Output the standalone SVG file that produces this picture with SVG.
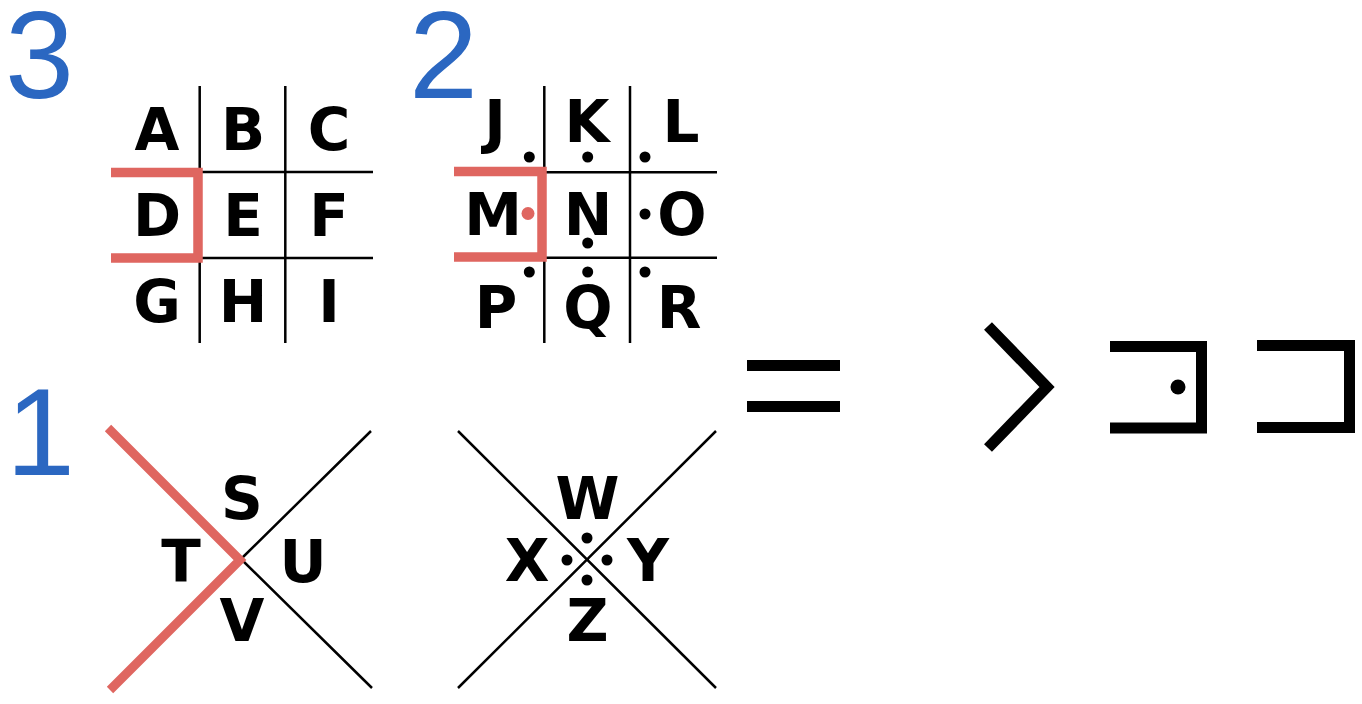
<svg xmlns="http://www.w3.org/2000/svg" width="1362" height="704" viewBox="0 0 1362 704">
<style>
.num{font-family:"Liberation Sans",Arial,sans-serif;font-size:124px;fill:#2b67c1}
.lt{font-family:"DejaVu Sans",Verdana,sans-serif;font-weight:bold;font-size:58px;fill:#000;text-anchor:middle}
.thin{stroke:#000;stroke-width:2.5;fill:none}
.red{stroke:#df6660;stroke-width:9.5;fill:none;stroke-linejoin:miter}
.sym{stroke:#000;stroke-width:11;fill:none;stroke-linejoin:miter}
</style>
<rect width="1362" height="704" fill="#fff"/>
<g id="labels">
<text class="num" x="5" y="98">3</text>
<text class="num" x="409" y="98">2</text>
<text class="num" x="6" y="475">1</text>
</g>
<g id="grid1">
<path class="thin" d="M199.7,86V343M285.3,86V343M200,172H373M200,258H373"/>
<path class="red" d="M111,172.5H198V258H111"/>
<text class="lt" x="157" y="150">A</text>
<text class="lt" x="243" y="150">B</text>
<text class="lt" x="329" y="150">C</text>
<text class="lt" x="157" y="236">D</text>
<text class="lt" x="243" y="236">E</text>
<text class="lt" x="329" y="236">F</text>
<text class="lt" x="157" y="322">G</text>
<text class="lt" x="243" y="322">H</text>
<text class="lt" x="329" y="322">I</text>
</g>
<g id="grid2">
<path class="thin" d="M544.3,86V343M630,86V343M545,172.3H717M545,257.7H717"/>
<path class="red" d="M454,171.5H542V257H454"/>
<text class="lt" x="495" y="142">J</text>
<text class="lt" x="587" y="142">K</text>
<text class="lt" x="681" y="142">L</text>
<text class="lt" x="493" y="235">M</text>
<text class="lt" x="588" y="235">N</text>
<text class="lt" x="682" y="235">O</text>
<text class="lt" x="496" y="328">P</text>
<text class="lt" x="588" y="328">Q</text>
<text class="lt" x="679" y="328">R</text>
<g fill="#000">
<circle cx="529.3" cy="157" r="5.5"/>
<circle cx="587.7" cy="157" r="5.5"/>
<circle cx="645" cy="157" r="5.5"/>
<circle cx="645" cy="214" r="5.5"/>
<circle cx="587.7" cy="243" r="5.5"/>
<circle cx="529.3" cy="272" r="5.5"/>
<circle cx="587.7" cy="272" r="5.5"/>
<circle cx="645" cy="272" r="5.5"/>
</g>
<circle cx="528" cy="213.5" r="6.5" fill="#df6660"/>
</g>
<g id="x1">
<path class="thin" d="M241,559L371,431M241,559L372,688"/>
<path class="red" style="stroke-width:9" d="M108,428L240,560L110,690"/>
<text class="lt" x="242" y="519">S</text>
<text class="lt" x="181" y="582">T</text>
<text class="lt" x="303" y="582">U</text>
<text class="lt" x="242" y="641">V</text>
</g>
<g id="x2">
<path class="thin" d="M458,431L716,688M716,431L458,688"/>
<text class="lt" x="587.5" y="519">W</text>
<text class="lt" x="527" y="581">X</text>
<text class="lt" x="648" y="581">Y</text>
<text class="lt" x="587.5" y="641">Z</text>
<g fill="#000">
<circle cx="587" cy="538" r="5.5"/>
<circle cx="567" cy="560" r="5.5"/>
<circle cx="607" cy="560" r="5.5"/>
<circle cx="587" cy="580" r="5.5"/>
</g>
</g>
<g id="equals">
<rect x="747" y="360" width="93" height="11" fill="#000"/>
<rect x="747" y="401" width="93" height="11" fill="#000"/>
</g>
<g id="result">
<path class="sym" d="M988,326L1047,387L988,448"/>
<path class="sym" d="M1110,346.5H1201.5V428H1110"/>
<circle cx="1178" cy="387" r="7.5" fill="#000"/>
<path class="sym" d="M1257,345.5H1349.5V427.5H1257"/>
</g>
<g id="connectors"/>
</svg>
